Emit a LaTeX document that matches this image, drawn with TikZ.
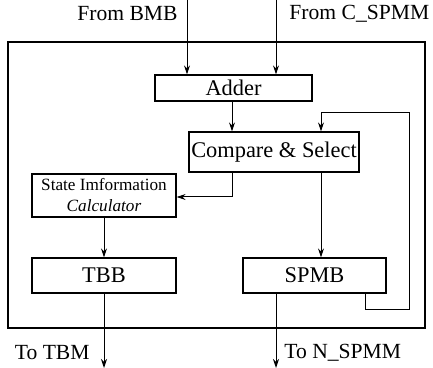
\documentclass[tikz,border=0pt]{standalone}
\usepackage{fontspec}
\setmainfont{Liberation Serif}
\usetikzlibrary{arrows.meta}

\begin{document}
\begin{tikzpicture} [x = 0.5pt, y = -0.5pt, >={Stealth[length = 4.5pt, width = 3pt]},
  block/.style = {draw, black, line width = 0.65pt, inner sep = 0pt, font = \fontsize{11.2}{13}\selectfont},
  wire/.style = {black, line width = 0.5pt},
  frame/.style = {black, line width = 1.1pt},
  tag/.style = {black, inner sep = 0pt, font = \fontsize{10.8}{13}\selectfont}]
\useasboundingbox (0, 0) rectangle (433, 368);
\draw[frame] (8, 42) rectangle (425, 328);
\node[block, minimum width = 78.5pt, minimum height = 13pt] (adder) at (233.5, 88){Adder};
\node[block, minimum width = 85pt, minimum height = 20pt] (cmpsel) at (274, 152){Compare \& Select};
\node[block, minimum width = 72pt, minimum height = 21.5pt, align = center, font = \fontsize{8.6}{10.5}\selectfont] (sic) at (104, 195.5){State Imformation\\\textit{Calculator}};
\node[block, minimum width = 72pt, minimum height = 17.5pt] (tbb) at (104, 275.5){TBB};
\node[block, minimum width = 71.5pt, minimum height = 17.5pt] (spmb) at (314.5, 275.5){SPMB};
\coordinate (inbmb) at (187, 0);
\coordinate (inspmm) at (276, 0);
\coordinate (outtbm) at (104, 368);
\coordinate (outspmm) at (276, 368);
\coordinate (sictap) at (232, 197);
\coordinate (fbdown) at (365, 310);
\coordinate (fbright) at (409, 310);
\coordinate (fbtop) at (409, 113);
\coordinate (fbleft) at (321, 113);
\draw[wire, ->] (inbmb) -- (inbmb |- adder.north);
\draw[wire, ->] (inspmm) -- (inspmm |- adder.north);
\draw[wire, ->] (adder.south -| sictap) -- (cmpsel.north -| sictap);
\draw[wire, ->] (cmpsel.south -| sictap) -- (sictap) -- (sictap -| sic.east);
\draw[wire, ->] (sic) -- (tbb);
\draw[wire, ->] (cmpsel.south -| fbleft) -- (spmb.north -| fbleft);
\draw[wire, ->] (spmb.south -| fbdown) -- (fbdown) -- (fbright) -- (fbtop) -- (fbleft) -- (fbleft |- cmpsel.north);
\draw[wire, ->] (tbb.south) -- (outtbm);
\draw[wire, ->] (spmb.south -| outspmm) -- (outspmm);
\node[tag, anchor = east] (frombmb) at (178, 14){From BMB};
\node[tag, anchor = west] (fromspmm) at (289, 14){From C\_SPMM};
\node[tag, anchor = east] (totbm) at (90, 353){To TBM};
\node[tag, anchor = west] (tonspmm) at (284, 353){To N\_SPMM};
\end{tikzpicture}
\end{document}
